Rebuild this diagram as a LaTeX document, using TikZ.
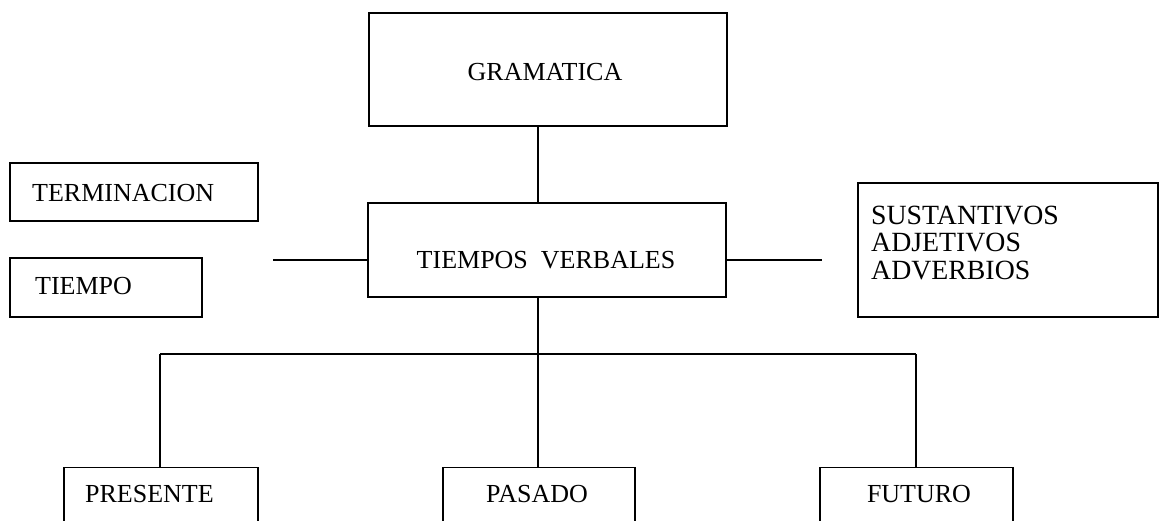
\documentclass[tikz,border=0pt]{standalone}
\usepackage{fontspec}
\setmainfont{Liberation Serif}
\begin{document}
\begin{tikzpicture}[x=1pt,y=-1pt,
  box/.style={draw,line width=1.2pt,rectangle,inner sep=0pt},
  lbl/.style={inner sep=0pt,font=\fontsize{26}{32}\selectfont},
  conn/.style={line width=1.2pt}]
\useasboundingbox (0,0) rectangle (1159,520);
\clip (0,0) rectangle (1159,520);
\fill[white] (0,0) rectangle (1159,520);
% boxes
\node[box,minimum width=358pt,minimum height=113pt] (gram) at (548,69.5) {};
\node[lbl] (gramt) at (545,72) {GRAMATICA};
\node[box,minimum width=358pt,minimum height=94pt] (tv) at (547,250) {};
\node[lbl] (tvt) at (546,260) {TIEMPOS\hspace{0.5em}VERBALES};
\node[box,minimum width=248pt,minimum height=58pt] (term) at (134,192) {};
\node[lbl,anchor=west] (termt) at (32,193) {TERMINACION};
\node[box,minimum width=192pt,minimum height=59pt] (tiem) at (106,287.5) {};
\node[lbl,anchor=west] (tiemt) at (35,286) {TIEMPO};
\node[box,minimum width=300pt,minimum height=134pt] (sust) at (1008,250) {};
\node[lbl,anchor=west,align=left,font=\fontsize{27.8}{27.5}\selectfont] (sustt) at (871,243) {SUSTANTIVOS\\ADJETIVOS\\ADVERBIOS};
\node[box,minimum width=194pt,minimum height=110pt,anchor=north] (pres) at (161,467) {};
\node[lbl,anchor=west] (prest) at (85,494) {PRESENTE};
\node[box,minimum width=192pt,minimum height=110pt,anchor=north] (pas) at (539,467) {};
\node[lbl] (past) at (537,494) {PASADO};
\node[box,minimum width=193pt,minimum height=110pt,anchor=north] (fut) at (916.5,467) {};
\node[lbl] (futt) at (919,494) {FUTURO};
% connectors
\coordinate (j) at (538,354);
\coordinate (l) at (160,354);
\coordinate (r) at (916,354);
\coordinate (le) at (273,260);
\coordinate (re) at (822,260);
\draw[conn] (gram.south -| j) -- (tv.north -| j);
\draw[conn] (le) -- (le -| tv.west);
\draw[conn] (re -| tv.east) -- (re);
\draw[conn] (tv.south -| j) -- (j);
\draw[conn] (l) -- (r);
\draw[conn] (l) -- (l |- pres.north);
\draw[conn] (j) -- (j |- pas.north);
\draw[conn] (r) -- (r |- fut.north);
\end{tikzpicture}
\end{document}
